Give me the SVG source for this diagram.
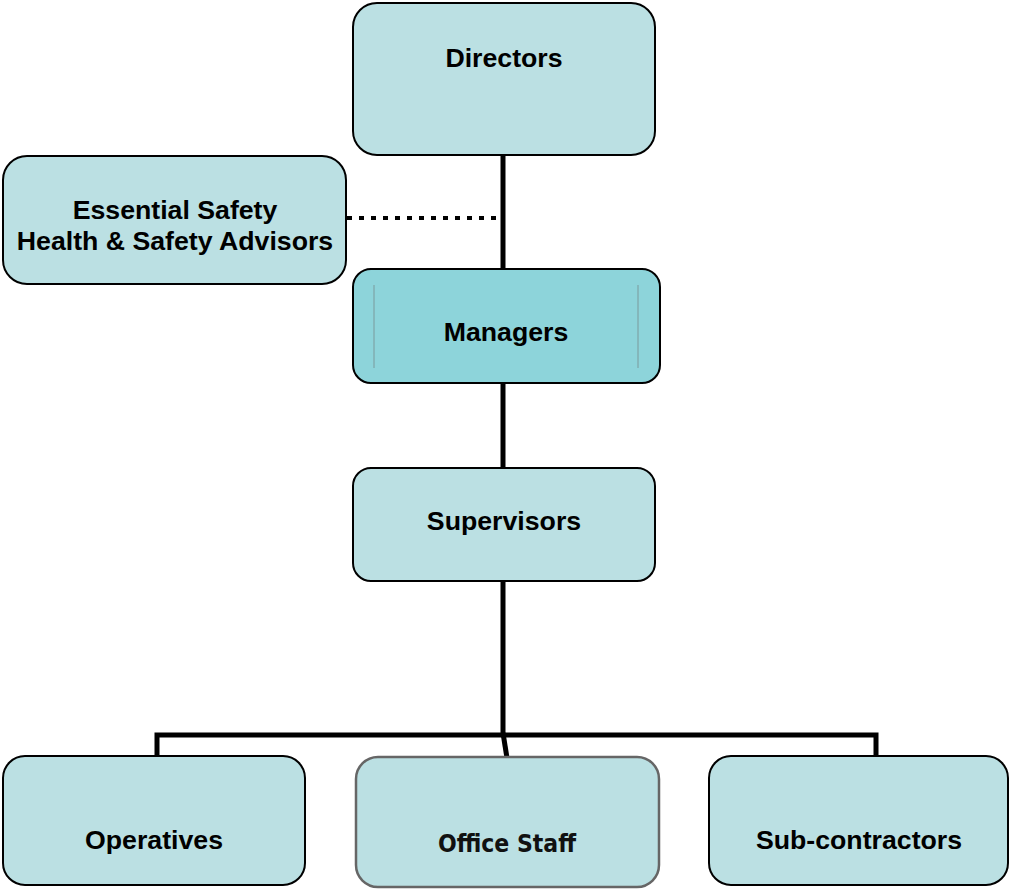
<svg xmlns="http://www.w3.org/2000/svg" width="1010" height="889" viewBox="0 0 1010 889">
<style>
.box{fill:#bbe0e3;stroke:#000;stroke-width:2}
.lbl{font-family:'Liberation Sans',Arimo,Arial,Helvetica,sans-serif;font-weight:700;font-size:26.7px;text-anchor:middle;fill:#000}
.conn{fill:none;stroke:#000;stroke-width:5}
</style>
<rect width="1010" height="889" fill="#fff"/>
<g id="connectors">
<line class="conn" x1="503" y1="155" x2="503" y2="270"/>
<line class="conn" x1="503" y1="383" x2="503" y2="469"/>
<line class="conn" x1="503" y1="581" x2="503" y2="733"/>
<polyline class="conn" points="157,757 157,735 876,735 876,757"/>
<line class="conn" x1="503" y1="733" x2="507" y2="758"/>
<line x1="347" y1="218" x2="497" y2="218" stroke="#000" stroke-width="4" stroke-dasharray="5 7"/>
</g>
<g id="directors">
<rect class="box" x="353" y="3" width="302" height="152" rx="24"/>
<text class="lbl" x="504" y="67">Directors</text>
</g>
<g id="advisors">
<rect class="box" x="3" y="156" width="343" height="128" rx="24"/>
<text class="lbl" x="175" y="219">Essential Safety</text>
<text class="lbl" x="175" y="250">Health &amp; Safety Advisors</text>
</g>
<g id="managers">
<rect x="353" y="269" width="307" height="114" rx="18" fill="#8dd4da" stroke="#000" stroke-width="2"/>
<line x1="374" y1="285" x2="374" y2="368" stroke="#7a9a9c" stroke-width="1"/>
<line x1="638" y1="285" x2="638" y2="368" stroke="#7a9a9c" stroke-width="1"/>
<text class="lbl" x="506" y="341">Managers</text>
</g>
<g id="supervisors">
<rect class="box" x="353" y="468" width="302" height="113" rx="18"/>
<text class="lbl" x="504" y="530">Supervisors</text>
</g>
<g id="operatives">
<rect class="box" x="3" y="756" width="302" height="129" rx="22"/>
<text class="lbl" x="154" y="849">Operatives</text>
</g>
<g id="office-staff">
<rect x="356" y="757" width="303" height="130" rx="22" fill="#bbe0e3" stroke="#666" stroke-width="2.5"/>
<text x="507" y="852" font-family="'DejaVu Sans Condensed','DejaVu Sans',sans-serif" font-weight="bold" font-size="24.5" text-anchor="middle" fill="#111">Office Staff</text>
</g>
<g id="subcontractors">
<rect class="box" x="709" y="756" width="299" height="129" rx="22"/>
<text class="lbl" x="859" y="849">Sub-contractors</text>
</g>
</svg>
